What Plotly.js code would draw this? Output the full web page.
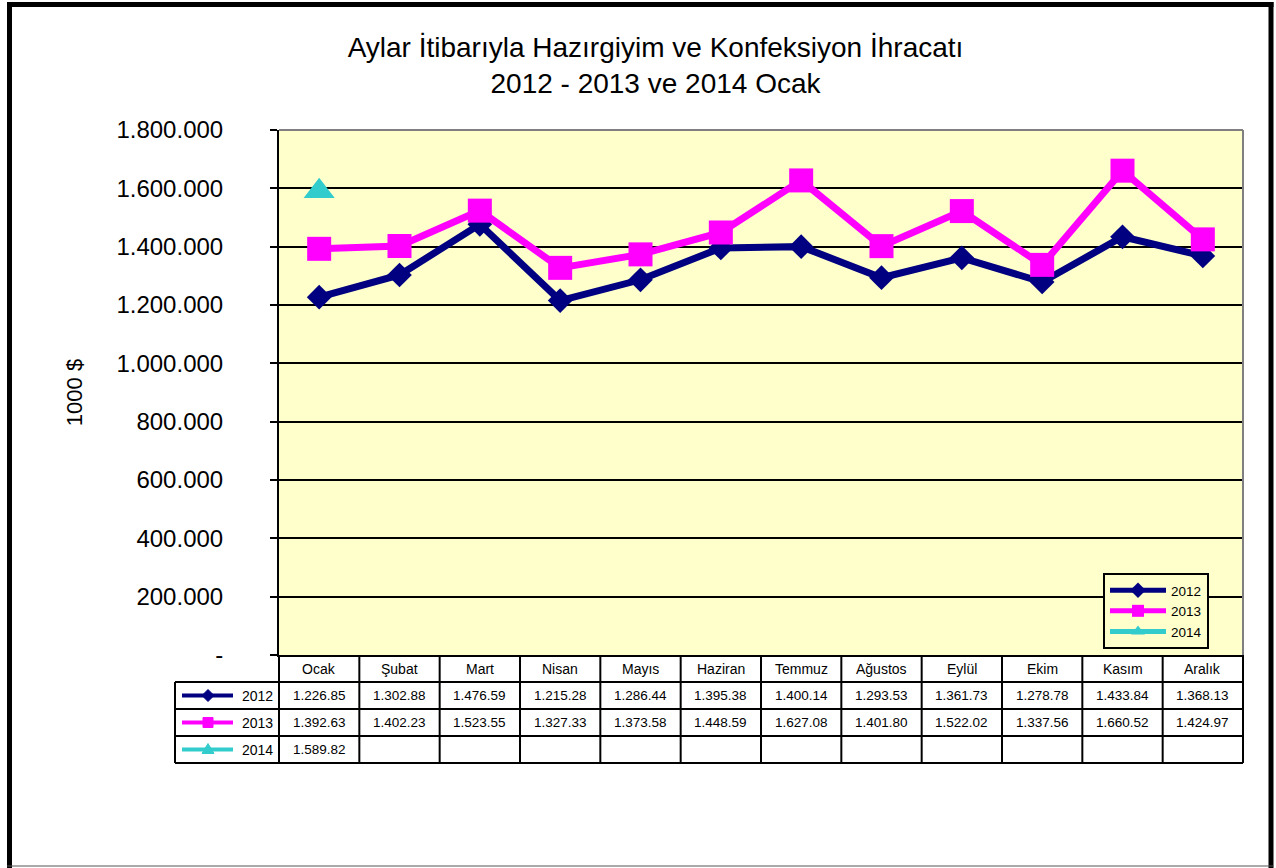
<!DOCTYPE html>
<html>
<head>
<meta charset="utf-8">
<script src="https://cdn.plot.ly/plotly-3.0.1.min.js"></script>
<style>html,body{margin:0;padding:0;background:#fff;}#chart{width:1276px;height:868px;}</style>
</head>
<body>
<div id="chart"></div>
<script>
// ---- data ----
const months = ['Ocak','Şubat','Mart','Nisan','Mayıs','Haziran','Temmuz','Ağustos','Eylül','Ekim','Kasım','Aralık'];
const y2012 = [1226.85,1302.88,1476.59,1215.28,1286.44,1395.38,1400.14,1293.53,1361.73,1278.78,1433.84,1368.13];
const y2013 = [1392.63,1402.23,1523.55,1327.33,1373.58,1448.59,1627.08,1401.80,1522.02,1337.56,1660.52,1424.97];
const y2014 = [1589.82];
const seriesNames = ['2012','2013','2014'];
const yTickVals = [0,200000,400000,600000,800000,1000000,1200000,1400000,1600000,1800000];
const yTickText = ['-','200.000','400.000','600.000','800.000','1.000.000','1.200.000','1.400.000','1.600.000','1.800.000'];
const titleText = 'Aylar İtibarıyla Hazırgiyim ve Konfeksiyon İhracatı<br>2012 - 2013 ve 2014 Ocak';
const yTitle = '1000 $';

// ---- styling / layout constants ----
const FONT = 'Liberation Sans, Arial, sans-serif';
const colors = ['#000080', '#FF00FF', '#33CCCC'];
const symbols = ['diamond', 'square', 'triangle-up'];
const W = 1276, H = 868;
const L = 279, R = 1243, T = 130, B = 655;
const px = p => (p - L) / (R - L);
const py = p => (B - p) / (B - T);

function fmt(v) {
  const s = v.toFixed(2);
  const [ip, dp] = s.split('.');
  return ip.replace(/\B(?=(\d{3})+(?!\d))/g, '.') + '.' + dp;
}
const toThousands = arr => arr.map(v => v * 1000);

const series = [y2012, y2013, y2014];
const traces = series.map((arr, i) => ({
  type: 'scatter',
  mode: 'lines+markers',
  name: seriesNames[i],
  x: months.slice(0, arr.length),
  y: toThousands(arr),
  line: {color: colors[i], width: 7},
  marker: {color: colors[i], symbol: symbols[i], size: [19, 24, 27][i]},
  cliponaxis: false
}));

// ---- table ----
const shapes = [];
const annotations = [];
const blk = {color: '#000', width: 2};
const rowsY = [682, 709, 736, 763];
const rowCenters = [668.5, 695.5, 722.5, 749.5];
for (let k = 0; k <= months.length; k++) {
  const xp = k / months.length;
  shapes.push({type: 'line', xref: 'paper', yref: 'paper', x0: xp, x1: xp, y0: py(B), y1: py(763), line: blk});
}
shapes.push({type: 'line', xref: 'paper', yref: 'paper', x0: px(175), x1: px(175), y0: py(682), y1: py(763), line: blk});
rowsY.forEach(yy => shapes.push({type: 'line', xref: 'paper', yref: 'paper', x0: px(175), x1: 1, y0: py(yy), y1: py(yy), line: blk}));
// plot area top/right grey border
shapes.push({type: 'line', xref: 'paper', yref: 'paper', x0: 0, x1: 1, y0: 1, y1: 1, line: {color: '#808080', width: 2}});
shapes.push({type: 'line', xref: 'paper', yref: 'paper', x0: 1, x1: 1, y0: 0, y1: 1, line: {color: '#808080', width: 2}});
// outer frame
const fr = {color: '#000', width: 5};
shapes.push({type: 'line', xref: 'paper', yref: 'paper', x0: px(9.5), x1: px(9.5), y0: py(2), y1: py(870), line: fr});
shapes.push({type: 'line', xref: 'paper', yref: 'paper', x0: px(1271), x1: px(1271), y0: py(2), y1: py(870), line: fr});
shapes.push({type: 'line', xref: 'paper', yref: 'paper', x0: px(7), x1: px(1273.5), y0: py(4.5), y1: py(4.5), line: fr});
shapes.push({type: 'line', xref: 'paper', yref: 'paper', x0: px(7), x1: px(1273.5), y0: py(866), y1: py(866), line: {color: '#555', width: 1}});

// table legend keys
function path(points) {
  return 'M' + points.map(p => px(p[0]) + ',' + py(p[1])).join(' L') + ' Z';
}
seriesNames.forEach((nm, i) => {
  const cy = rowCenters[i + 1];
  shapes.push({type: 'line', xref: 'paper', yref: 'paper', x0: px(182), x1: px(233), y0: py(cy), y1: py(cy), line: {color: colors[i], width: 4}});
  const cx = 208;
  let pts;
  if (i === 0) pts = [[cx, cy - 6], [cx + 6, cy], [cx, cy + 6], [cx - 6, cy]];
  else if (i === 1) pts = [[cx - 5, cy - 5], [cx + 5, cy - 5], [cx + 5, cy + 5], [cx - 5, cy + 5]];
  else pts = [[cx, cy - 6], [cx + 6, cy + 4], [cx - 6, cy + 4]];
  shapes.push({type: 'path', xref: 'paper', yref: 'paper', path: path(pts), fillcolor: colors[i], line: {color: colors[i], width: 1}});
  annotations.push({xref: 'paper', yref: 'paper', x: px(275), y: py(cy), xanchor: 'right', yanchor: 'middle',
    text: nm, showarrow: false, font: {family: FONT, size: 14, color: '#000'}});
});
months.forEach((m, j) => {
  annotations.push({xref: 'x', yref: 'paper', x: m, y: py(rowCenters[0]), xanchor: 'center', yanchor: 'middle',
    text: m, showarrow: false, font: {family: FONT, size: 14, color: '#000'}});
});
series.forEach((arr, i) => {
  arr.forEach((v, j) => {
    annotations.push({xref: 'x', yref: 'paper', x: months[j], y: py(rowCenters[i + 1]), xanchor: 'center', yanchor: 'middle',
      text: fmt(v), showarrow: false, font: {family: FONT, size: 13.5, color: '#000'}});
  });
});

const layout = {
  width: W, height: H,
  margin: {l: L, r: W - R, t: T, b: H - B, pad: 0},
  paper_bgcolor: '#FFFFFF',
  plot_bgcolor: '#FFFFCC',
  font: {family: FONT, color: '#000'},
  title: {text: titleText, font: {family: FONT, size: 28, color: '#000'}, x: 655.5 / W, xref: 'container', xanchor: 'center', y: 1 - 57 / H, yref: 'container', yanchor: 'top'},
  showlegend: true,
  legend: {x: px(1103), y: py(573), xanchor: 'left', yanchor: 'top', bgcolor: '#FFFFCC', bordercolor: '#000', borderwidth: 2,
    font: {family: FONT, size: 13.5, color: '#000'}, itemsizing: 'constant', itemwidth: 56, tracegroupgap: 0},
  xaxis: {type: 'category', range: [-0.5, 11.5], showticklabels: false, ticks: '', showgrid: false, zeroline: false,
    showline: true, linecolor: '#000', linewidth: 2, fixedrange: true},
  yaxis: {range: [0, 1800000], tickvals: yTickVals, ticktext: yTickText, ticks: 'outside', ticklen: 7, tickwidth: 2, tickcolor: '#000',
    ticklabelstandoff: 42, tickfont: {family: FONT, size: 24, color: '#000'},
    showgrid: true, gridcolor: '#000', gridwidth: 2, zeroline: false, showline: true, linecolor: '#000', linewidth: 2,
    title: {text: yTitle, font: {family: FONT, size: 22, color: '#000'}, standoff: 28}, automargin: false, fixedrange: true},
  shapes: shapes,
  annotations: annotations
};

Plotly.newPlot('chart', traces, layout, {staticPlot: true, displayModeBar: false});
</script>
</body>
</html>
